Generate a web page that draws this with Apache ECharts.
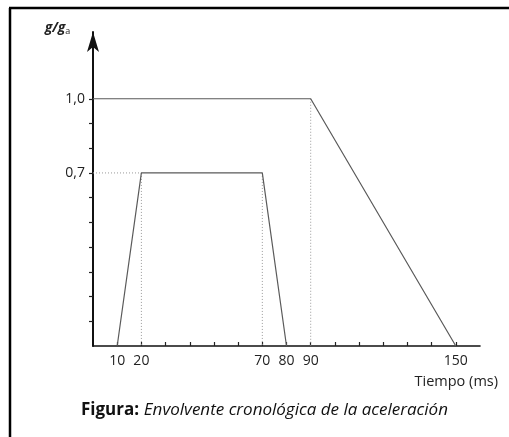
<!DOCTYPE html>
<html>
<head>
<meta charset="utf-8">
<script src="https://cdn.jsdelivr.net/npm/echarts@6/dist/echarts.min.js"></script>
<style>
  html, body { margin: 0; padding: 0; background: #fff; }
  #main { width: 509px; height: 437px; }
</style>
</head>
<body>
<div id="main"></div>
<script>
// pulso trapezoidal (0,7 g)
var pulsoTiempo = [10, 20, 70, 80];
var pulsoValor = [0, 0.7, 0.7, 0];
// envolvente superior (1,0 g)
var envolTiempo = [0, 90, 150];
var envolValor = [1.0, 1.0, 0];
// etiquetas y marcas de los ejes
var etiquetasX = [10, 20, 70, 80, 90, 150];
var marcasX = [10, 20, 30, 40, 50, 60, 70, 80, 90, 100, 110, 120, 130, 140, 150];
var etiquetasY = [0.7, 1.0];
var marcasY = [0.1, 0.2, 0.3, 0.4, 0.5, 0.6, 0.7, 0.8, 0.9, 1.0];

var fuente = '"Open Sans", "DejaVu Sans", sans-serif';

function pares(xs, ys) {
    return xs.map(function (x, i) { return [x, ys[i]]; });
}

// lineas auxiliares punteadas
var guias = [
    [[0, pulsoValor[1]], [pulsoTiempo[1], pulsoValor[1]]],
    [[pulsoTiempo[1], pulsoValor[1]], [pulsoTiempo[1], 0]],
    [[pulsoTiempo[2], pulsoValor[2]], [pulsoTiempo[2], 0]],
    [[envolTiempo[1], envolValor[1]], [envolTiempo[1], 0]]
];

var series = guias.map(function (g) {
    return {
        type: 'line', data: g, symbol: 'none', silent: true,
        lineStyle: { color: '#9a9a9a', width: 1, type: [1, 2] }
    };
});
series.push({
    type: 'line', data: pares(pulsoTiempo, pulsoValor), symbol: 'none',
    lineStyle: { color: '#5a5a5a', width: 1.2 }
});
series.push({
    type: 'line', data: pares(envolTiempo, envolValor), symbol: 'none',
    lineStyle: { color: '#5a5a5a', width: 1.2 }
});

var chart = echarts.init(document.getElementById('main'));
chart.setOption({
    backgroundColor: '#fff',
    animation: false,
    textStyle: { fontFamily: fuente },
    grid: { left: 93, right: 29, top: 32, bottom: 91, containLabel: false },
    xAxis: {
        type: 'value', min: 0, max: 160,
        name: 'Tiempo (ms)', nameLocation: 'end',
        nameGap: 18,
        nameTextStyle: { fontSize: 14.5, color: '#222', align: 'right', verticalAlign: 'top', padding: [28, 0, 0, 0], fontFamily: fuente },
        axisLine: { lineStyle: { color: '#111', width: 1.6 } },
        axisTick: { show: true, inside: true, length: 4, customValues: marcasX, lineStyle: { color: '#222', width: 1.2 } },
        axisLabel: { customValues: etiquetasX, fontSize: 14, color: '#222', margin: 8, fontFamily: fuente },
        splitLine: { show: false }
    },
    yAxis: {
        type: 'value', min: 0, max: 1.27,
        axisLine: { show: true, symbol: ['none', 'arrow'], symbolSize: [9, 20], lineStyle: { color: '#111', width: 2 } },
        axisTick: { show: true, length: 4, customValues: marcasY, lineStyle: { color: '#222', width: 1.2 } },
        axisLabel: {
            customValues: etiquetasY, fontSize: 14, color: '#222', margin: 8, fontFamily: fuente,
            formatter: function (v) { return v.toFixed(1).replace('.', ','); }
        },
        splitLine: { show: false }
    },
    title: {
        text: '{b|Figura:} {i|Envolvente cronológica de la aceleración}',
        left: 76, top: 396,
        textStyle: {
            rich: {
                b: { fontWeight: 'bold', fontSize: 17, color: '#111', fontFamily: fuente },
                i: { fontStyle: 'italic', fontWeight: 'normal', fontSize: 17, color: '#111', fontFamily: fuente }
            }
        }
    },
    graphic: [
        { type: 'line', shape: { x1: 9, y1: 8, x2: 509, y2: 8 }, style: { stroke: '#000', lineWidth: 2.5 } },
        { type: 'line', shape: { x1: 10, y1: 8, x2: 10, y2: 437 }, style: { stroke: '#000', lineWidth: 2.5 } },
        {
            type: 'text', left: 45, top: 21,
            style: {
                text: '{g|g/g}{s|a}',
                rich: {
                    g: { fontStyle: 'italic', fontWeight: 'bold', fontSize: 13.5, fill: '#222', fontFamily: fuente },
                    s: { fontSize: 9, fill: '#222', fontFamily: fuente, padding: [6, 0, 0, 0] }
                }
            }
        }
    ],
    series: series
});
</script>
</body>
</html>
